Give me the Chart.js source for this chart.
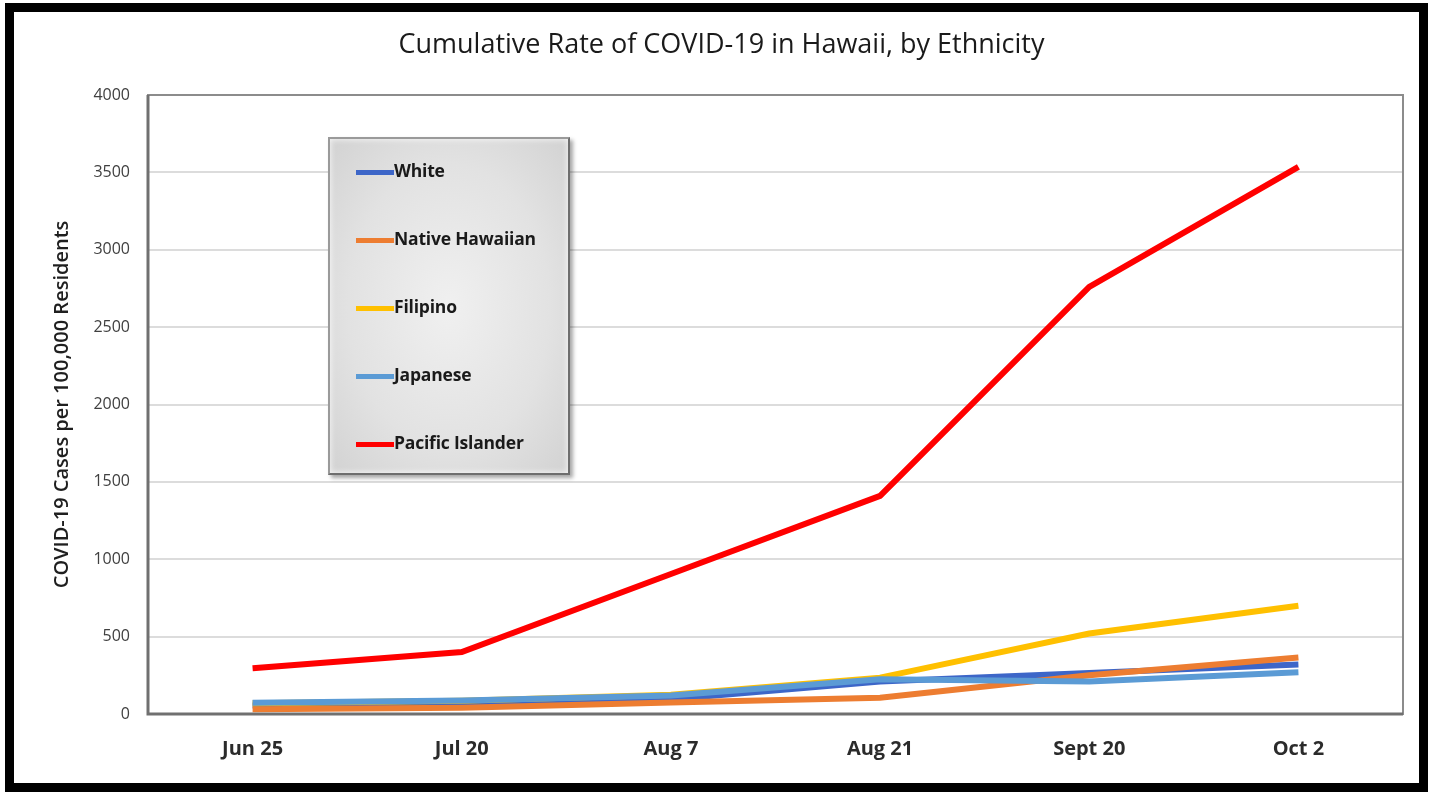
<!DOCTYPE html>
<html>
<head>
<meta charset="utf-8">
<script src="https://cdn.jsdelivr.net/npm/chart.js@4.4.0/dist/chart.umd.min.js"></script>
<style>
  body { margin: 0; background: #fff; }
  #wrap { position: relative; width: 1432px; height: 792px; }
  #mycanvas { position: absolute; left: 0; top: 0; }
  #frame { position: absolute; left: 5px; top: 3px; width: 1423px; height: 789px;
    box-sizing: border-box; border: 9px solid #000; pointer-events: none; }
  #legend { position: absolute; left: 328px; top: 137px; width: 242px; height: 338px;
    box-sizing: border-box; border: 2px solid #6e6e6e; border-top-color: #9a9a9a; border-left-color: #9a9a9a;
    background: radial-gradient(ellipse at center, #f0f0f0 0%, #e2e2e2 60%, #d2d2d2 100%);
    box-shadow: 3px 3px 4px rgba(0,0,0,0.35), inset 0 0 6px rgba(255,255,255,0.9);
    font-family: "Open Sans", sans-serif; font-weight: 700; font-size: 17.5px; color: #1a1a1a; }
  .item { position: absolute; left: 26px; height: 24px; line-height: 24px; white-space: nowrap; letter-spacing: -0.2px; }
  .swatch { display: inline-block; width: 38px; height: 5px; vertical-align: middle; margin-right: 0; }
</style>
</head>
<body>
<div id="wrap">
  <canvas id="mycanvas" width="1432" height="792"></canvas>
  <div id="legend"></div>
  <div id="frame"></div>
</div>
<script>
var categories = ["Jun 25", "Jul 20", "Aug 7", "Aug 21", "Sept 20", "Oct 2"];
var seriesNames = ["White", "Native Hawaiian", "Filipino", "Japanese", "Pacific Islander"];
var white = [55, 65, 95, 210, 265, 320];
var nativeHawaiian = [30, 40, 75, 105, 250, 365];
var filipino = [70, 85, 125, 235, 520, 700];
var japanese = [72, 88, 120, 225, 210, 270];
var pacificIslander = [295, 400, 905, 1410, 2760, 3535];
var yTicks = [0, 500, 1000, 1500, 2000, 2500, 3000, 3500, 4000];

var colors = ["#3d66c8", "#ed7d31", "#ffc000", "#5b9bd5", "#ff0000"];
var allData = [white, nativeHawaiian, filipino, japanese, pacificIslander];

var datasets = [];
for (var i in allData) {
  datasets.push({
    label: seriesNames[i],
    data: allData[i],
    borderColor: colors[i],
    backgroundColor: colors[i],
    borderWidth: 6,
    pointRadius: 0,
    tension: 0,
    fill: false,
    order: 5 - i
  });
}

// legend box
var legend = document.getElementById("legend");
for (var j in seriesNames) {
  var row = document.createElement("div");
  row.className = "item";
  row.style.top = (19 + j * 68) + "px";
  row.innerHTML = '<span class="swatch" style="background:' + colors[j] + '"></span>' + seriesNames[j];
  legend.appendChild(row);
}

var plotFrame = {
  id: "plotFrame",
  afterDatasetsDraw: function(chart) {
    var a = chart.chartArea, c = chart.ctx;
    c.save();
    c.strokeStyle = "#8c8c8c";
    c.lineWidth = 2;
    c.strokeRect(a.left, a.top, a.right - a.left, a.bottom - a.top);
    c.strokeStyle = "#707070";
    c.lineWidth = 3;
    c.beginPath();
    c.moveTo(a.left, a.top);
    c.lineTo(a.left, a.bottom);
    c.lineTo(a.right, a.bottom);
    c.stroke();
    c.restore();
  }
};

var ctx = document.getElementById("mycanvas");
var LineGraph = new Chart(ctx, {
  type: "line",
  data: { labels: categories, datasets: datasets },
  plugins: [plotFrame],
  options: {
    responsive: false,
    animation: false,
    layout: { padding: { left: 40, right: 29, bottom: 18, top: 0 } },
    plugins: {
      legend: { display: false },
      tooltip: { enabled: false },
      title: {
        display: true,
        text: "Cumulative Rate of COVID-19 in Hawaii, by Ethnicity",
        color: "#1a1a1a",
        font: { family: "Open Sans", size: 27, weight: "normal" },
        padding: { top: 29, bottom: 33.6 }
      }
    },
    scales: {
      x: {
        offset: true,
        grid: { display: false },
        border: { display: false },
        ticks: { color: "#2b2b2b", padding: 15, font: { family: "Open Sans", size: 20, weight: "bold" } },
        afterFit: function(s) { s.height = 60; }
      },
      y: {
        min: 0,
        max: 4000,
        afterBuildTicks: function(s) { s.ticks = yTicks.map(function(v) { return { value: v }; }); },
        grid: { color: "#dcdcdc", lineWidth: 2, drawTicks: false },
        border: { display: false },
        ticks: {
          color: "#404040", padding: 18, font: { family: "Open Sans", size: 16 },
          callback: function(v) { return String(v); }
        },
        title: {
          display: true,
          text: "COVID-19 Cases per 100,000 Residents",
          color: "#1f1f1f",
          font: { family: "Open Sans", size: 20, weight: "600" },
          padding: { top: 10, bottom: 0 }
        },
        afterFit: function(s) { s.width = 108; }
      }
    }
  }
});
</script>
</body>
</html>
